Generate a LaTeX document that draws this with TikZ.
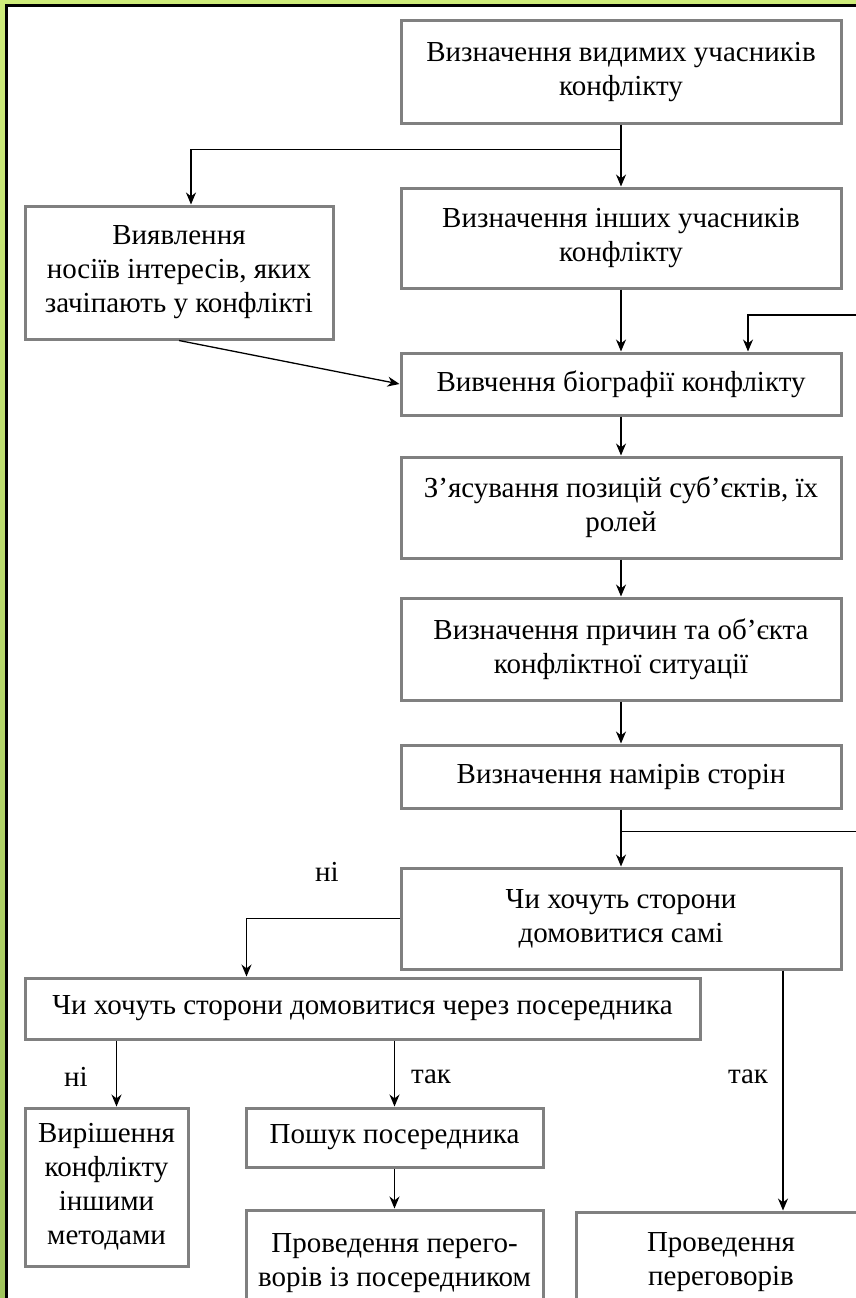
\documentclass[tikz,border=0pt]{standalone}
\usepackage{fontspec}
\setmainfont{Liberation Serif}
\usetikzlibrary{positioning,arrows.meta}

\definecolor{greentop}{RGB}{206,236,122}
\definecolor{greenbot}{RGB}{160,196,92}
\definecolor{boxgray}{RGB}{128,128,128}

\tikzstyle{block} = [rectangle, draw=boxgray, line width=3pt, fill=white, align=center, font=\fontsize{29}{34}\selectfont, inner sep=1pt, minimum width=440pt]
\tikzstyle{answer} = [font=\fontsize{29}{34}\selectfont, inner sep=0pt]
\tikzstyle{arrow} = [line width=1.3pt, -{Stealth[length=12pt,width=10pt]}]

\begin{document}
\begin{tikzpicture}[x=1pt, y=-1pt, node distance=40pt]

\useasboundingbox (0,0) rectangle (856,1298);
\fill [top color=greentop, bottom color=greenbot] (0,0) rectangle (856,1298);
\fill [white] (6,6) rectangle (900,1340);
\draw [line width=3pt] (6,1340) -- (6,6) -- (900,6);

% main column
\node (visible) [block, minimum height=102pt] at (621,72) {Визначення видимих учасників\\конфлікту};
\node (others) [block, below=62pt of visible, minimum height=100pt] {Визначення інших учасників\\конфлікту};
\node (biography) [block, below=62pt of others, minimum height=62pt] {Вивчення біографії конфлікту};
\node (positions) [block, below=39pt of biography, minimum height=101pt] {З’ясування позицій суб’єктів, їх\\ролей};
\node (causes) [block, below=37pt of positions, minimum height=102pt] {Визначення причин та об’єкта\\конфліктної ситуації};
\node (intentions) [block, below=42pt of causes, minimum height=63pt] {Визначення намірів сторін};
\node (selfagree) [block, below=57pt of intentions, minimum height=101pt] {Чи хочуть сторони\\домовитися самі};

% side and lower boxes
\node (carriers) [block, minimum width=308pt, minimum height=133pt] at (179,272.5) {Виявлення\\носіїв інтересів, яких\\зачіпають у конфлікті};
\node (mediator) [block, minimum width=675pt, minimum height=61pt] at (362.5,1008.5) {Чи хочуть сторони домовитися через посередника};
\node (othermethods) [block, minimum width=163pt, minimum height=158pt] at (106.5,1187) {Вирішення\\конфлікту\\іншими\\методами};
\node (search) [block, minimum width=297pt, minimum height=59pt] at (394.5,1137.5) {Пошук посередника};
\node (mednegot) [block, below=40pt of search, minimum width=297pt, minimum height=106pt] {Проведення перего-\\ворів із посередником};
\node (negot) [block, minimum width=290pt, minimum height=100pt] at (721,1262) {Проведення\\переговорів};

\coordinate (split1) at ([yshift=-25pt]visible.south);
\coordinate (split2) at ([yshift=-22pt]intentions.south);

\draw [arrow] (visible) -- (others);
\draw [arrow] (split1) -| ([xshift=12pt]carriers.north);
\draw [arrow] (others) -- (biography);
\draw [arrow] (carriers.south) -- (biography.west);
\draw [arrow] (biography) -- (positions);
\draw [arrow] (positions) -- (causes);
\draw [arrow] (causes) -- (intentions);
\draw [arrow] (intentions) -- (selfagree);
\draw [arrow] (split2) -| (880,315) -| ([xshift=127pt]biography.north);

\draw [arrow] (selfagree.west) -| ([xshift=-116pt]mediator.north);
\node (no1) [answer] at (327,872) {ні};
\draw [arrow] ([xshift=162pt]selfagree.south) -- ([xshift=162pt]selfagree.south |- negot.north);
\node (yes1) [answer] at (748,1077) {так};

\draw [arrow] ([xshift=10pt]othermethods.north |- mediator.south) -- ([xshift=10pt]othermethods.north);
\node (no2) [answer] at (76,1077) {ні};
\draw [arrow] (search.north |- mediator.south) -- (search.north);
\node (yes2) [answer] at (431,1077) {так};
\draw [arrow] (search) -- (mednegot);
\end{tikzpicture}
\end{document}
